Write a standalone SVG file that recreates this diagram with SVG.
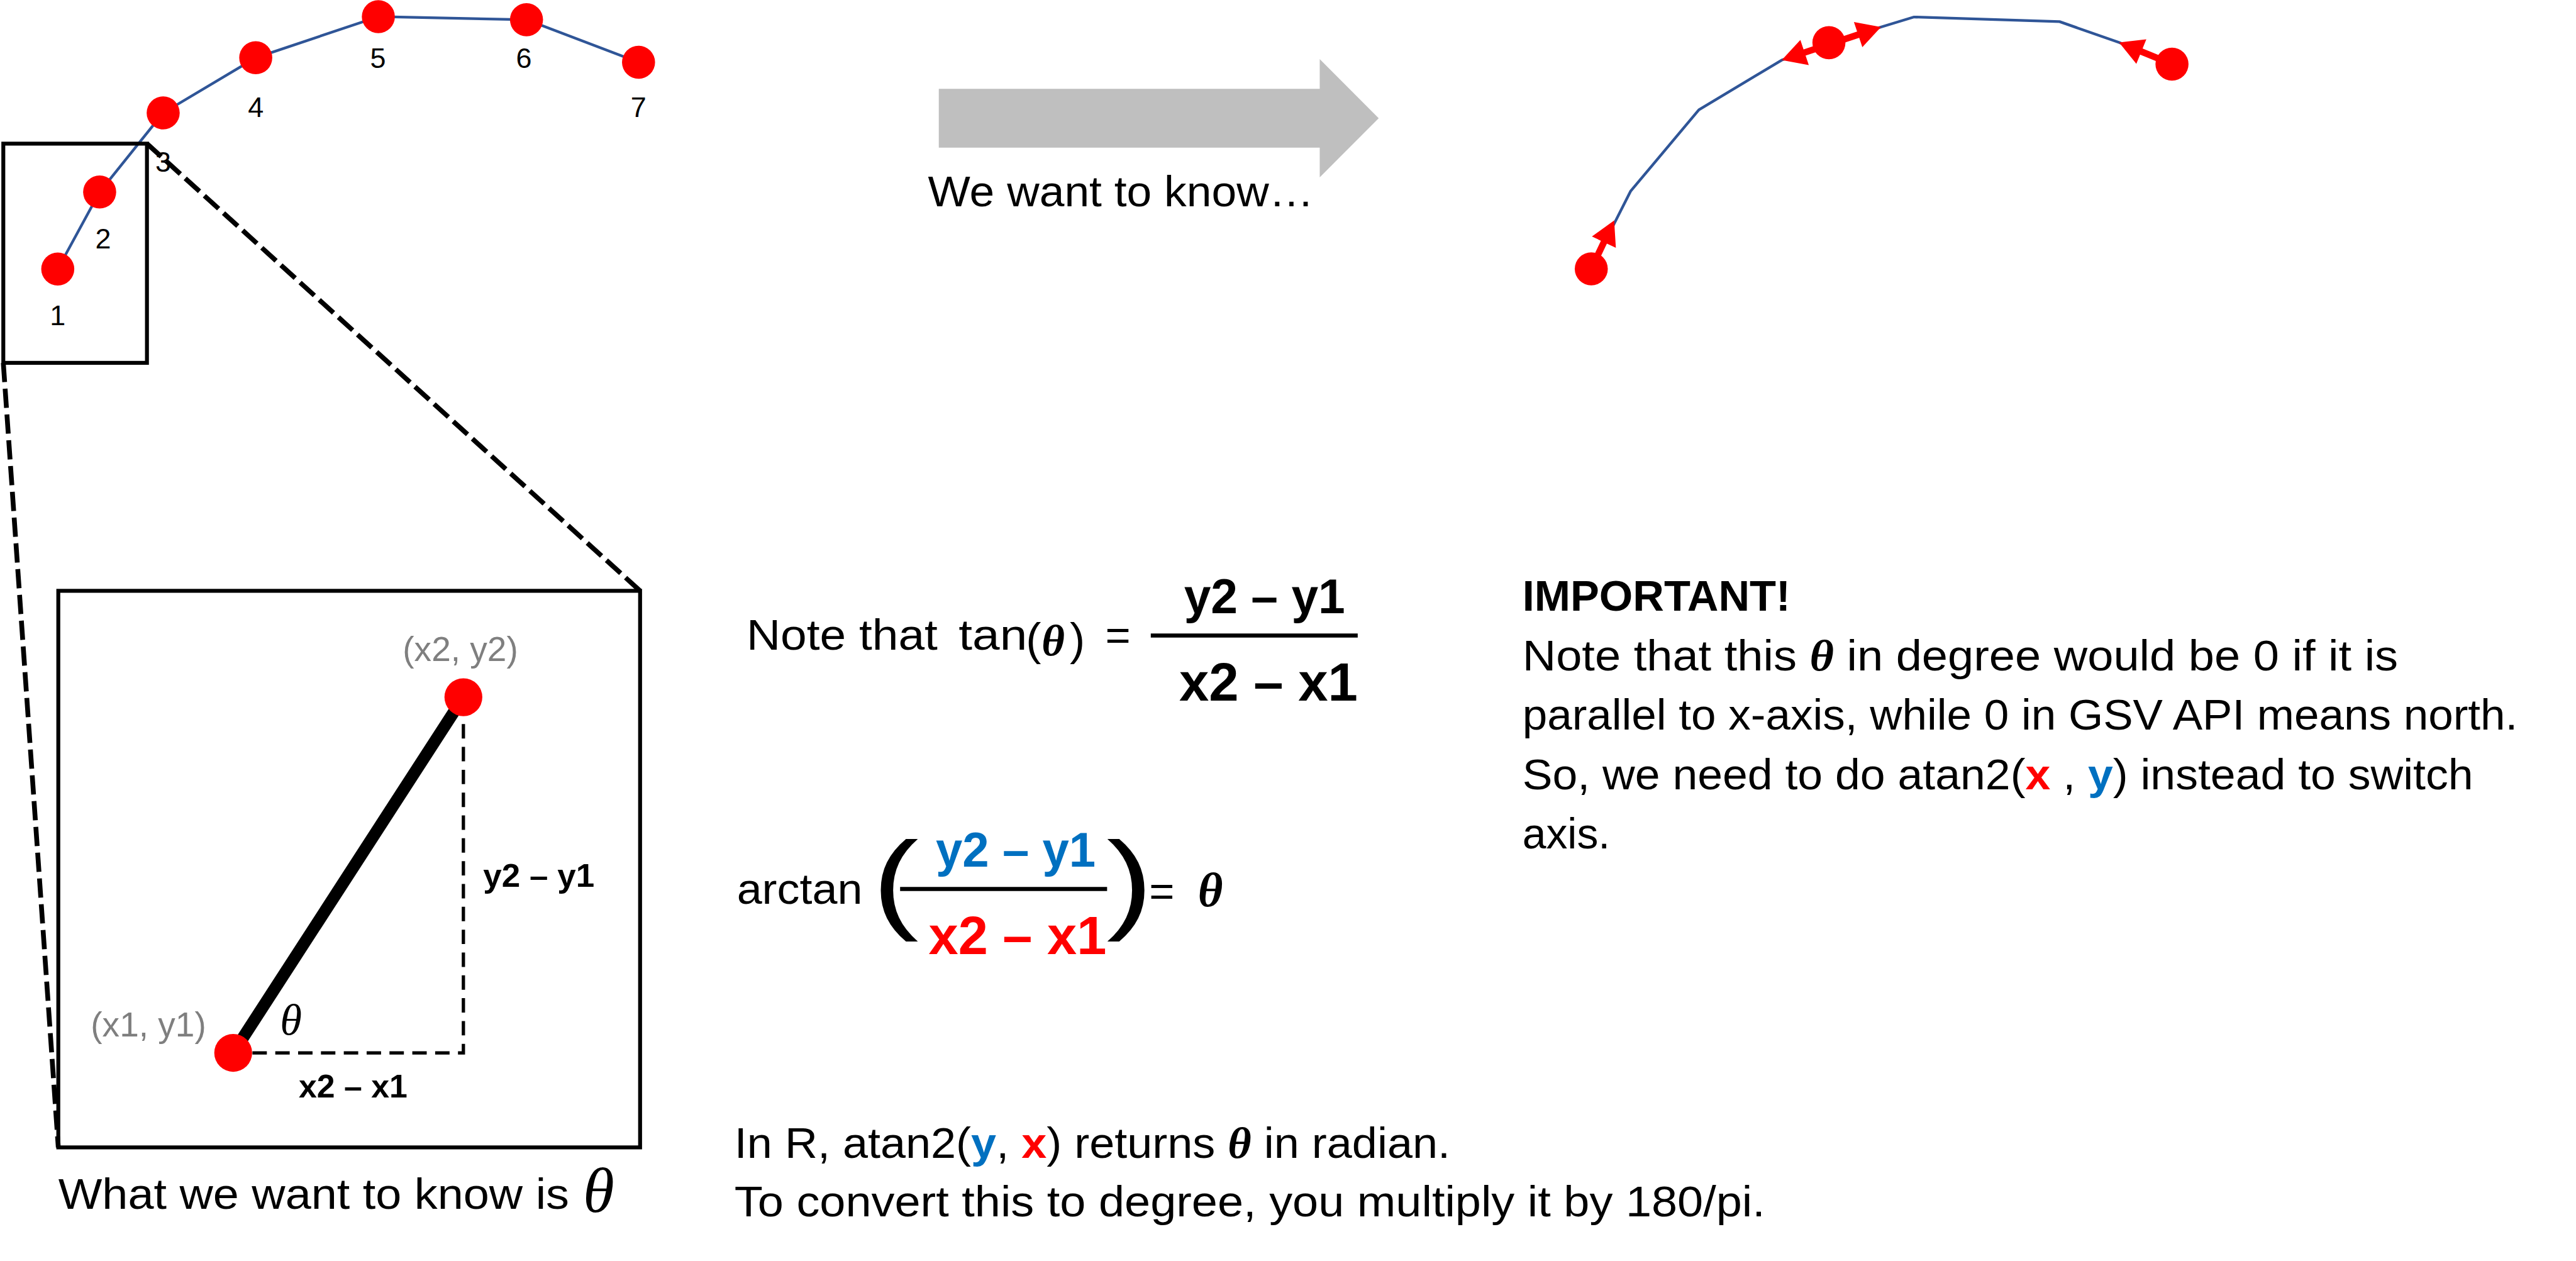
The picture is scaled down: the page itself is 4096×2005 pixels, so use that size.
<svg xmlns="http://www.w3.org/2000/svg" width="4096" height="2005" viewBox="0 0 4096 2005">
<style>
.t{font-family:"Liberation Sans",Arial,sans-serif;fill:#000}
.b{font-weight:bold}
.th{font-family:"Liberation Serif","Times New Roman",serif;font-style:italic}
.thb{font-family:"Liberation Serif","Times New Roman",serif;font-style:italic;font-weight:bold}
.red{fill:#FF0000}
.blue{fill:#0070C0}
.gray{fill:#7F7F7F}
.dot{fill:#FF0000}
.path{fill:none;stroke:#2F5597;stroke-width:4.5;stroke-linejoin:round}
.frame{fill:none;stroke:#000;stroke-width:6.5}
.zoomdash{fill:none;stroke:#000;stroke-width:8;stroke-dasharray:32 11}
.legdash{fill:none;stroke:#000;stroke-width:5.5;stroke-dasharray:24 14}
.shaft{stroke:#FF0000;stroke-width:11;fill:none}
.bar{stroke:#000;stroke-width:6.7}
</style>
<rect width="4096" height="2005" fill="#fff"/>
<g transform="scale(0.955669)">

<g id="connectors">
  <line class="zoomdash" x1="244.5" y1="239" x2="1065" y2="983"/>
  <line class="zoomdash" x1="5.5" y1="603.7" x2="97" y2="1909"/>
</g>

<g id="route-left">
  <polyline class="path" points="96.1,447.6 165.8,319.5 271.5,187.8 425.5,96.1 629.5,27.7 876,32.8 1062.4,103.6"/>
  <g id="p1"><circle class="dot" cx="96.1" cy="447.6" r="27.5"/><text class="t" x="96.1" y="541" font-size="47" text-anchor="middle">1</text></g>
  <g id="p2"><circle class="dot" cx="165.8" cy="319.5" r="27.5"/><text class="t" x="171.7" y="413" font-size="47" text-anchor="middle">2</text></g>
  <g id="p3"><circle class="dot" cx="271.5" cy="187.8" r="27.5"/><text class="t" x="271.5" y="285.5" font-size="47" text-anchor="middle">3</text></g>
  <g id="p4"><circle class="dot" cx="425.5" cy="96.1" r="27.5"/><text class="t" x="425.5" y="195" font-size="47" text-anchor="middle">4</text></g>
  <g id="p5"><circle class="dot" cx="629.5" cy="27.7" r="27.5"/><text class="t" x="628.8" y="113" font-size="47" text-anchor="middle">5</text></g>
  <g id="p6"><circle class="dot" cx="876" cy="32.8" r="27.5"/><text class="t" x="871.6" y="113" font-size="47" text-anchor="middle">6</text></g>
  <g id="p7"><circle class="dot" cx="1062.4" cy="103.6" r="27.5"/><text class="t" x="1062.4" y="195" font-size="47" text-anchor="middle">7</text></g>
  <rect id="zoom-box" class="frame" x="5.5" y="239" width="239" height="364.7"/>
</g>

<g id="big-arrow">
  <polygon fill="#BFBFBF" points="1562,147.7 2195.8,147.7 2195.8,98.3 2293.9,196.7 2195.8,295 2195.8,245.7 1562,245.7"/>
  <text class="t" x="1544" y="343.3" font-size="72" textLength="642" lengthAdjust="spacingAndGlyphs">We want to know…</text>
</g>

<g id="route-right">
  <polyline class="path" points="2647.6,447.3 2712.9,318.3 2826.6,182.7 2964.5,100 3129.6,45 3184.6,28.3 3426.7,36 3525.8,70.7 3613.8,106.7"/>
  <line class="shaft" x1="2647.6" y1="447.3" x2="2669.9" y2="400.2"/>
  <polygon class="dot" points="2685.7,366.7 2688.5,412.3 2648.7,393.5"/>
  <line class="shaft" x1="2999.7" y1="88.3" x2="3094.4" y2="56.7"/>
  <polygon class="dot" points="2964.5,100 3009.5,108.3 2995.5,66.5"/>
  <polygon class="dot" points="3129.6,45 3098.6,78.5 3084.6,36.7"/>
  <line class="shaft" x1="3613.8" y1="106.7" x2="3560" y2="84.7"/>
  <polygon class="dot" points="3525.8,70.7 3571.1,65.4 3554.5,106.2"/>
  <circle class="dot" cx="2647.6" cy="447.3" r="27.5"/>
  <circle class="dot" cx="3043" cy="71" r="27.5"/>
  <circle class="dot" cx="3613.8" cy="106.7" r="27.5"/>
</g>

<g id="detail">
  <rect class="frame" x="97" y="983" width="968" height="926"/>
  <path class="legdash" d="M420,1751.7 H771 V1192"/>
  <line x1="388" y1="1751.7" x2="771" y2="1160" stroke="#000" stroke-width="20"/>
  <circle class="dot" cx="388" cy="1751.7" r="31.5"/>
  <circle class="dot" cx="771" cy="1160" r="31.5"/>
  <text class="t gray" x="670" y="1100" font-size="58" textLength="192" lengthAdjust="spacingAndGlyphs">(x2, y2)</text>
  <text class="t gray" x="151" y="1724.6" font-size="58" textLength="192" lengthAdjust="spacingAndGlyphs">(x1, y1)</text>
  <text class="t b" x="804" y="1475.7" font-size="55" textLength="185" lengthAdjust="spacingAndGlyphs">y2 – y1</text>
  <text class="t b" x="497" y="1826.4" font-size="55" textLength="181" lengthAdjust="spacingAndGlyphs">x2 – x1</text>
  <text class="th" x="466" y="1721" font-size="74">θ</text>
  <text class="t" x="97" y="2011.6" font-size="72" textLength="850" lengthAdjust="spacingAndGlyphs">What we want to know is</text>
  <text class="th" x="970" y="2016" font-size="106">θ</text>
</g>

<g id="tan-eq">
  <text class="t" x="1242" y="1080.7" font-size="72" textLength="318" lengthAdjust="spacingAndGlyphs">Note that</text>
  <text class="t" x="1595" y="1080.7" font-size="72" textLength="114" lengthAdjust="spacingAndGlyphs">tan</text>
  <text class="t" x="1707" y="1089" font-size="76">(</text>
  <text class="thb" x="1733" y="1090" font-size="74">θ</text>
  <text class="t" x="1780" y="1089" font-size="76">)</text>
  <text class="t" x="1839" y="1082" font-size="72">=</text>
  <text class="t b" x="1970" y="1020.4" font-size="81" textLength="268" lengthAdjust="spacingAndGlyphs">y2 – y1</text>
  <line class="bar" x1="1914.7" y1="1057.3" x2="2259" y2="1057.3"/>
  <text class="t b" x="1962" y="1165.5" font-size="90" textLength="297" lengthAdjust="spacingAndGlyphs">x2 – x1</text>
</g>

<g id="arctan-eq">
  <text class="t" x="1226" y="1503.9" font-size="72" textLength="209" lengthAdjust="spacingAndGlyphs">arctan</text>
  <text class="t" transform="translate(1451,1529) scale(1.27,1)" font-size="183">(</text>
  <text class="t" transform="translate(1841,1529) scale(1.27,1)" font-size="183">)</text>
  <text class="t b blue" x="1557" y="1442.3" font-size="81" textLength="266" lengthAdjust="spacingAndGlyphs">y2 – y1</text>
  <line class="bar" x1="1497.6" y1="1479" x2="1842" y2="1479"/>
  <text class="t b red" x="1545" y="1587.4" font-size="89" textLength="296" lengthAdjust="spacingAndGlyphs">x2 – x1</text>
  <text class="t" x="1912" y="1508" font-size="72">=</text>
  <text class="thb" x="1993" y="1508" font-size="80">θ</text>
</g>

<g id="important">
  <text class="t b" x="2533" y="1016" font-size="72" textLength="446" lengthAdjust="spacingAndGlyphs">IMPORTANT!</text>
  <text class="t" x="2533" y="1115" font-size="72" textLength="1457" lengthAdjust="spacingAndGlyphs">Note that this <tspan class="thb">θ</tspan> in degree would be 0 if it is</text>
  <text class="t" x="2533" y="1214" font-size="72" textLength="1656" lengthAdjust="spacingAndGlyphs">parallel to x-axis, while 0 in GSV API means north.</text>
  <text class="t" x="2533" y="1313" font-size="72" textLength="1582" lengthAdjust="spacingAndGlyphs">So, we need to do atan2(<tspan class="b red">x</tspan> , <tspan class="b blue">y</tspan>) instead to switch</text>
  <text class="t" x="2533" y="1412" font-size="72" textLength="146" lengthAdjust="spacingAndGlyphs">axis.</text>
</g>

<g id="r-note">
  <text class="t" x="1222" y="1926.7" font-size="72" textLength="1191" lengthAdjust="spacingAndGlyphs">In R, atan2(<tspan class="b blue">y</tspan>, <tspan class="b red">x</tspan>) returns <tspan class="thb">θ</tspan> in radian.</text>
  <text class="t" x="1222" y="2024" font-size="72" textLength="1715" lengthAdjust="spacingAndGlyphs">To convert this to degree, you multiply it by 180/pi.</text>
</g>

</g>
</svg>
